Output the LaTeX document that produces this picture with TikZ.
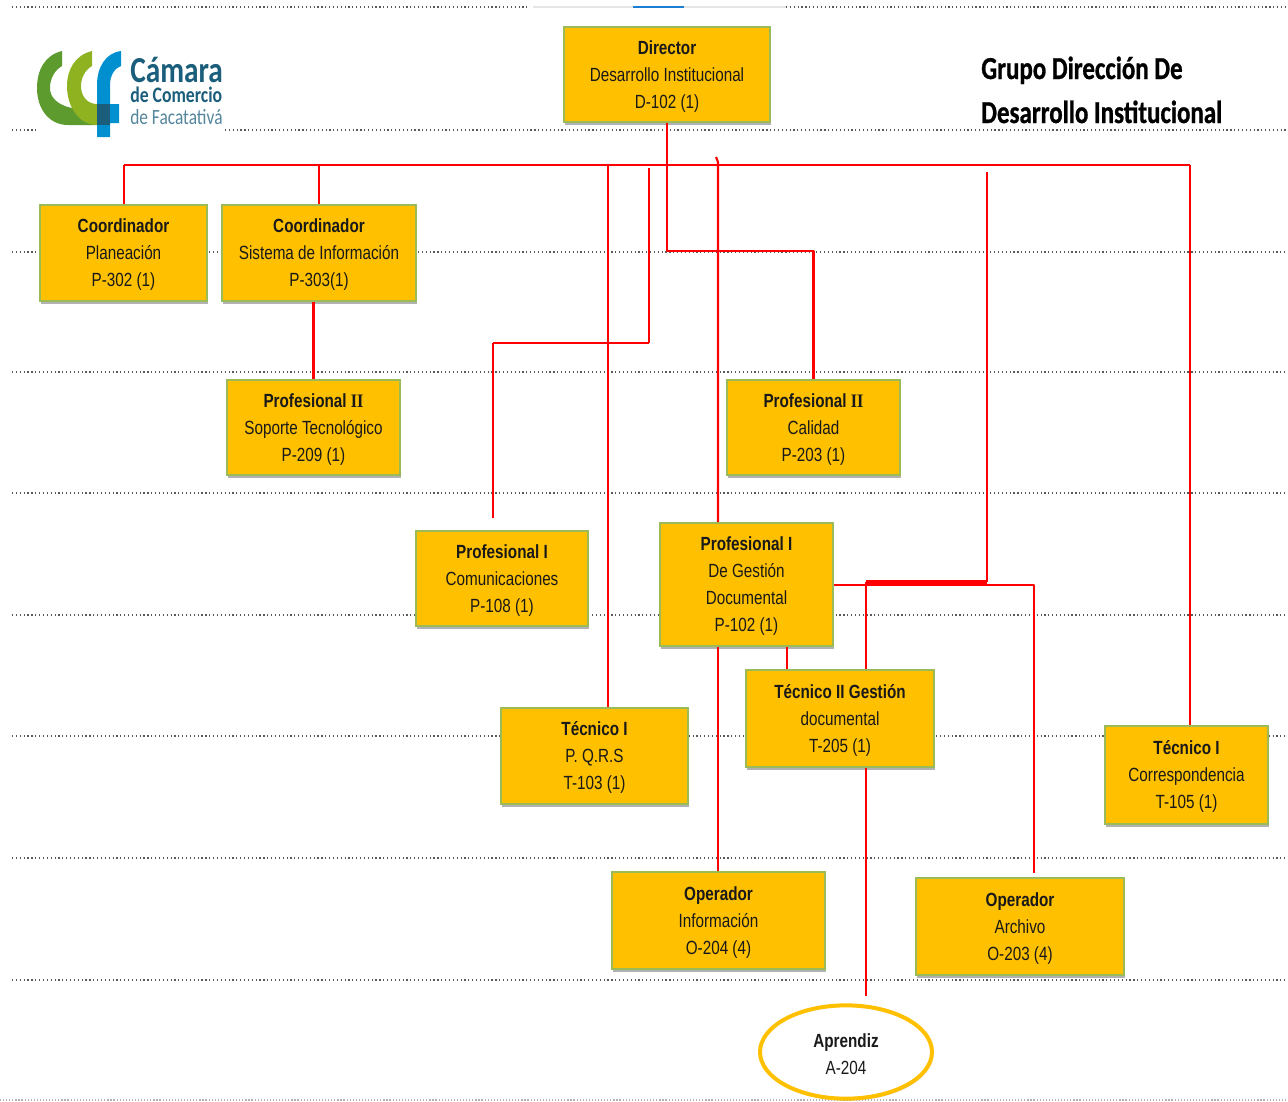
\documentclass[tikz,border=0pt]{standalone}
\usepackage{fontspec}
\setmainfont[FakeStretch=0.8]{Liberation Sans}
\newfontfamily\serifii[FakeStretch=0.85]{Liberation Serif}
\newfontfamily\titlefont[FakeStretch=0.78,BoldFeatures={FakeBold=0.8}]{Carlito}
\newfontfamily\logofont[FakeStretch=0.8]{Carlito}
\usetikzlibrary{shapes.geometric,shadows}
\definecolor{boxfill}{HTML}{FFC000}
\definecolor{boxedge}{HTML}{9BBB59}
\definecolor{logoteal}{HTML}{1B5E7B}
\definecolor{logodark}{HTML}{5E9B2E}
\definecolor{logolight}{HTML}{8FB320}
\definecolor{logoblue}{HTML}{0090D0}
\definecolor{scrollblue}{HTML}{1A7FD0}
\tikzset{
  orgbox/.style={draw=boxedge,line width=1.2pt,fill=boxfill,align=center,inner sep=0pt,
    font=\fontsize{14.3}{20.25}\selectfont,text=black!90,
    drop shadow={shadow xshift=.8pt,shadow yshift=-2.5pt,opacity=.5,fill=black!60}},
  apprentice/.style={ellipse,draw=boxfill,line width=3pt,fill=white,align=center,inner sep=0pt,
    font=\fontsize{14.3}{20.25}\selectfont,text=black!90,
    drop shadow={shadow xshift=.8pt,shadow yshift=-1.5pt,opacity=.3,fill=black!60}},
  link/.style={draw=red,line width=1.6pt,line join=round},
  thin link/.style={draw=red,line width=1.3pt},
  bus/.style={draw=red,line width=1.9pt},
  heavy/.style={draw=red,line width=2.4pt},
  guide/.style={draw=black!65,line width=.9pt,dash pattern=on .9pt off 2pt},
  paleguide/.style={draw=black!30,line width=.8pt,dash pattern=on .9pt off 1.4pt},
  logotext/.style={anchor=base west,inner sep=0pt,font=\logofont},
  titletext/.style={anchor=base west,inner sep=0pt,font=\titlefont\bfseries\fontsize{24}{24}\selectfont,text=black},
}
\newcommand{\pbox}[6]{%
  \pgfmathsetmacro{\bw}{(#4-#2)*.75}\pgfmathsetmacro{\bh}{(#5-#3)*.75}%
  \node[orgbox,minimum width=\bw pt,minimum height=\bh pt] (#1) at ({(#2+#4)/2},{(#3+#5)/2}) {#6};}
\newcommand{\hd}[1]{\rule{0pt}{13pt}\textbf{#1}}
\begin{document}
\begin{tikzpicture}[x=.75pt,y=-.75pt]
\useasboundingbox (0,0) rectangle (1288,1101);
% guide lines
\draw[guide] (12,7) -- (530,7);
\draw[guide] (786,7) -- (1288,7);
\draw[line width=2.2pt,black!10] (533,7) -- (786,7);
\draw[line width=2.2pt,scrollblue] (633,7) -- (684,7);
\draw[guide] (12,130) -- (36,130);
\draw[guide] (225,130) -- (1288,130);
\foreach \yy in {252,372,493,615,736,858,980}{\draw[guide] (12,\yy) -- (1288,\yy);}
\draw[paleguide] (0,1100) -- (1288,1100);
% logo
\fill[logodark] (62,51) .. controls (45,55) and (37,70) .. (37,88) .. controls (37,110) and (50,125) .. (68,125) -- (97,125) -- (97,108) -- (72,108) .. controls (57,105) and (50,97) .. (50,88) .. controls (50,78) and (55,70) .. (62,66) -- cycle;
\fill[logolight] (92,51) .. controls (75,55) and (67,70) .. (67,86) .. controls (67,108) and (80,125) .. (97,125) -- (97,104) .. controls (88,104) and (81,97) .. (81,86) .. controls (81,78) and (85,70) .. (92,66) -- cycle;
\fill[logoblue] (121,51) .. controls (105,53) and (97,68) .. (97,85) -- (97,137) -- (110,137) -- (110,123) -- (119,123) -- (119,104) -- (110,104) -- (110,85) .. controls (110,75) and (115,68) .. (121,66) -- cycle;
\fill[logoteal] (97,104) rectangle (110,125);
\node[logotext,text=logoteal] (logoa) at (130,82) {\fontsize{27.5}{27}\selectfont\textbf{Cámara}};
\node[logotext,text=logoteal] (logob) at (130,102.5) {\fontsize{16.6}{17}\selectfont\textbf{de Comercio}};
\node[logotext,text=logoteal!75] (logoc) at (130,124) {\fontsize{16.3}{16}\selectfont de Facatativá};
% title
\node[titletext] (title1) at (981,79) {Grupo Dirección De};
\node[titletext] (title2) at (981,123) {Desarrollo Institucional};
% boxes
\pbox{director}{564}{27}{770}{122}{\hd{Director}\\Desarrollo Institucional\\D-102 (1)}
\pbox{plan}{40}{205}{207}{301}{\hd{Coordinador}\\Planeación\\P-302 (1)}
\pbox{sis}{222}{205}{416}{301}{\hd{Coordinador}\\Sistema de Información\\P-303(1)}
\pbox{soporte}{227}{380}{400}{475}{\hd{Profesional {\serifii II}}\\Soporte Tecnológico\\P-209 (1)}
\pbox{calidad}{727}{380}{900}{475}{\hd{Profesional {\serifii II}}\\Calidad\\P-203 (1)}
\pbox{comun}{416}{531}{588}{626}{\hd{Profesional I}\\Comunicaciones\\P-108 (1)}
\pbox{gestion}{660}{523}{833}{646}{\hd{Profesional I}\\De Gestión\\Documental\\P-102 (1)}
\pbox{pqrs}{501}{708}{688}{804}{\hd{Técnico I}\\P. Q.R.S\\T-103 (1)}
\pbox{tecdos}{746}{670}{934}{767}{\hd{Técnico II Gestión}\\documental\\T-205 (1)}
\pbox{corresp}{1105}{726}{1268}{824}{\hd{Técnico I}\\Correspondencia\\T-105 (1)}
\pbox{opinfo}{612}{872}{825}{969}{\hd{Operador}\\Información\\O-204 (4)}
\pbox{oparch}{916}{878}{1124}{975}{\hd{Operador}\\Archivo\\O-203 (4)}
\node[apprentice,minimum width=129pt,minimum height=70pt] (aprendiz) at (846,1052) {\hd{Aprendiz}\\A-204};
% junctions and free ends
\coordinate (busl) at (124,165);
\coordinate (busr) at (1190,165);
\coordinate (qualturn) at (667,251);
\coordinate (comtop) at (649,168);
\coordinate (combend) at (649,343);
\coordinate (comend) at (493,518);
\coordinate (hook) at (716,157);
\coordinate (hookb) at (718,162);
\coordinate (tecline) at (987,172);
\coordinate (tecbend) at (987,582);
\coordinate (tecjoin) at (866,582);
\coordinate (apend) at (866,996);
\coordinate (archend) at (1034,873);
\coordinate (gestout) at (1034,585);
% connectors
\draw[bus] (busl) -- (busr);
\draw[link] (busl) -- (plan.north -| busl);
\draw[link] (sis.north) -- (sis.north |- busl);
\draw[link] (busr) -- (corresp.north -| busr);
\draw[link] (director.south) -- (qualturn) -- (qualturn -| calidad.north) -- (calidad.north);
\draw[link] (sis.south -| soporte.north) -- (soporte.north);
\draw[thin link] (608,165) -- (pqrs.north -| 608,0);
\draw[thin link] (comtop) -- (combend);
\draw[bus] (combend) -- (combend -| comend);
\draw[link] (combend -| comend) -- (comend);
\draw[link] (hook) -- (hookb) -- (gestion.north -| hookb);
\draw[link] (gestion.south -| hookb) -- (opinfo.north -| hookb);
\draw[thin link] (gestion.south -| 787,0) -- (tecdos.north -| 787,0);
\draw[thin link] (tecline) -- (tecbend);
\draw[heavy] (tecbend) -- (tecjoin);
\draw[link] (tecjoin) -- (tecdos.north -| tecjoin);
\draw[link] (tecdos.south -| apend) -- (apend);
\draw[link] (gestion.east |- gestout) -- (gestout) -- (archend);
\end{tikzpicture}
\end{document}
